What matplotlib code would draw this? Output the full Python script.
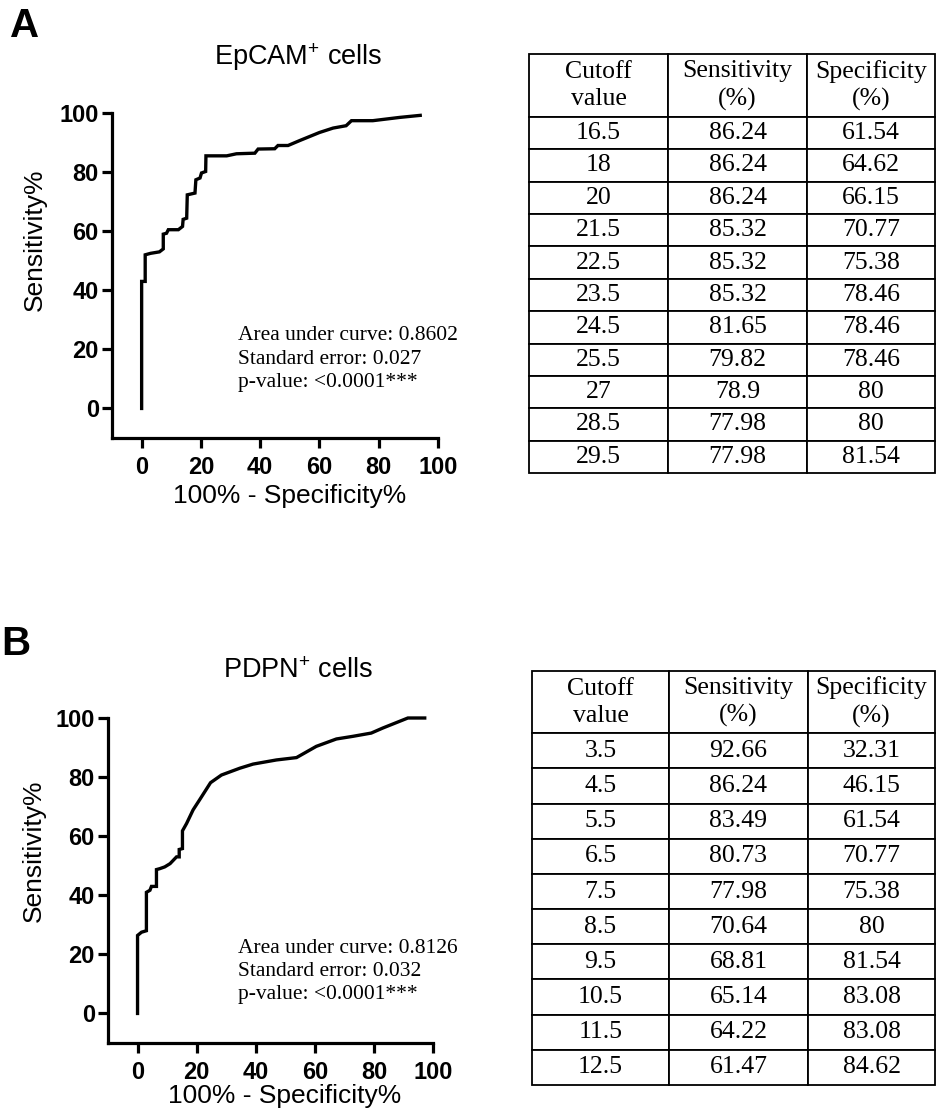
import matplotlib
matplotlib.use('Agg')
import matplotlib.pyplot as plt
import numpy as np

plt.rcParams['font.family'] = ['Liberation Sans', 'DejaVu Sans']
plt.rcParams['mathtext.fontset'] = 'custom'
plt.rcParams['mathtext.rm'] = 'Liberation Sans'
plt.rcParams['mathtext.it'] = 'Liberation Sans:italic'

# ---- ROC curve points (100% - specificity, sensitivity)
fpr_a = [0, 0, 1.2, 1.2, 3, 6, 7.3, 7.3, 8.4, 9, 12.4, 13.8, 14, 15.2, 15.4, 18, 18.3,
         19.7, 20.2, 21.6, 21.7, 28.7, 32, 38.2, 39.3, 44.9, 46, 49.4, 53.4, 60, 64.6,
         69, 70.8, 78, 87, 94]
tpr_a = [0, 43, 43, 52, 52.5, 53, 54, 59, 59.3, 60.5, 60.5, 61.6, 64, 64.4, 72.3, 72.9,
         77.4, 78, 79.7, 80.2, 85.5, 85.5, 86.2, 86.4, 87.8, 87.9, 89, 89, 90.7, 93.4,
         94.9, 95.7, 97.4, 97.4, 98.5, 99.2]

fpr_b = [0, 0, 1.35, 3, 3, 4.2, 4.7, 6.4, 6.4, 7.5, 9.2, 11, 13.2, 14.1, 14.1, 15.2,
         15.2, 16.6, 17.7, 18.8, 21, 24.7, 28.4, 34.6, 39.1, 47, 53.8, 60.5, 67.3, 72.9,
         79.1, 83, 91.5, 97.2]
tpr_b = [0, 26.4, 27.5, 28, 41, 41.7, 43, 43, 48.7, 49, 49.6, 50.7, 53, 53, 55.5, 55.8,
         61.8, 64.3, 66.6, 68.9, 72.3, 78.1, 80.7, 83, 84.4, 85.8, 86.6, 90.4, 92.9, 93.8,
         94.9, 96.6, 100, 100]

stats_a = ['Area under curve: 0.8602', 'Standard error: 0.027', 'p-value: <0.0001***']
stats_b = ['Area under curve: 0.8126', 'Standard error: 0.032', 'p-value: <0.0001***']

# ---- tables
header = ['Cutoff\nvalue', 'Sensitivity\n(%)', 'Specificity\n(%)']
cutoff_a = ['16.5', '18', '20', '21.5', '22.5', '23.5', '24.5', '25.5', '27', '28.5', '29.5']
sens_a = ['86.24', '86.24', '86.24', '85.32', '85.32', '85.32', '81.65', '79.82', '78.9', '77.98', '77.98']
spec_a = ['61.54', '64.62', '66.15', '70.77', '75.38', '78.46', '78.46', '78.46', '80', '80', '81.54']

cutoff_b = ['3.5', '4.5', '5.5', '6.5', '7.5', '8.5', '9.5', '10.5', '11.5', '12.5']
sens_b = ['92.66', '86.24', '83.49', '80.73', '77.98', '70.64', '68.81', '65.14', '64.22', '61.47']
spec_b = ['32.31', '46.15', '61.54', '70.77', '75.38', '80', '81.54', '83.08', '83.08', '84.62']

W, H = 936, 1116
fig = plt.figure(figsize=(W / 100, H / 100), dpi=100)


def px_axes(x0, y0, x1, y1):
    # figure pixels (top-left origin) -> add_axes rect
    return fig.add_axes([x0 / W, 1 - y1 / H, (x1 - x0) / W, (y1 - y0) / H])


def roc_panel(rect, fpr, tpr, stats, text_xy, ylab_pos, xlab_y):
    ax = px_axes(*rect)
    ax.plot(fpr, tpr, color='black', lw=2.4, clip_on=False, solid_joinstyle='miter')
    ax.set_xlim(-10, 100)
    ax.set_ylim(-10, 100)
    ax.set_xticks([0, 20, 40, 60, 80, 100])
    ax.set_yticks([0, 20, 40, 60, 80, 100])
    for s in ['top', 'right']:
        ax.spines[s].set_visible(False)
    for s in ['left', 'bottom']:
        ax.spines[s].set_linewidth(2.3)
    ax.tick_params(axis='both', length=7, width=2.3, labelsize=17)
    ax.tick_params(axis='x', pad=6)
    ax.tick_params(axis='y', pad=2.5)
    for lab in ax.get_xticklabels() + ax.get_yticklabels():
        lab.set_fontweight('bold')
    ax.set_xlabel('100% - Specificity%', fontsize=19)
    ax.set_ylabel('Sensitivity%', fontsize=19)
    ax.xaxis.set_label_coords(0.545, xlab_y)
    ax.yaxis.set_label_coords(ylab_pos[0], ylab_pos[1])
    ax.text(text_xy[0], text_xy[1], '\n'.join(stats), family='Liberation Serif',
            fontsize=15.5, va='top', ha='left', linespacing=1.3)
    return ax


def cut_table(rect, cols, colw, head_h, row_h):
    ax = px_axes(*rect)
    ax.axis('off')
    rows = list(zip(*cols))
    tb = ax.table(cellText=rows, colLabels=header, cellLoc='center', bbox=[0, 0, 1, 1])
    tb.auto_set_font_size(False)
    tb.set_fontsize(18.5)
    for (r, c), cell in tb.get_celld().items():
        cell.set_width(colw[c])
        cell.set_height(head_h if r == 0 else row_h)
        cell.set_linewidth(1.3)
        cell.get_text().set_fontfamily('Liberation Serif')
        cell.get_text().set_linespacing(1.3)
    return tb


roc_panel((112, 113, 438, 438), fpr_a, tpr_a, stats_a, (32.4, 27.8), (-0.2, 0.61), -0.14)
roc_panel((108, 718, 433, 1043), fpr_b, tpr_b, stats_b, (33.9, 25.3), (-0.19, 0.59), -0.125)

cut_table((529, 54, 935, 473), [cutoff_a, sens_a, spec_a], [139, 139, 128], 63, 32.4)
cut_table((532, 671, 935, 1085), [cutoff_b, sens_b, spec_b], [137, 139, 127], 62, 35)

fig.text(10 / W, 1 - 37 / H, 'A', fontsize=29, fontweight='bold', va='baseline')
fig.text(1 / W, 1 - 655 / H, 'B', fontsize=29, fontweight='bold', va='baseline')
fig.text(298 / W, 1 - 65 / H, r'EpCAM$^{\mathrm{+}}$ cells', fontsize=19.5, ha='center', va='baseline')
fig.text(298 / W, 1 - 678 / H, r'PDPN$^{\mathrm{+}}$ cells', fontsize=19.5, ha='center', va='baseline')

fig.savefig('out.png', dpi=100, facecolor='white')
